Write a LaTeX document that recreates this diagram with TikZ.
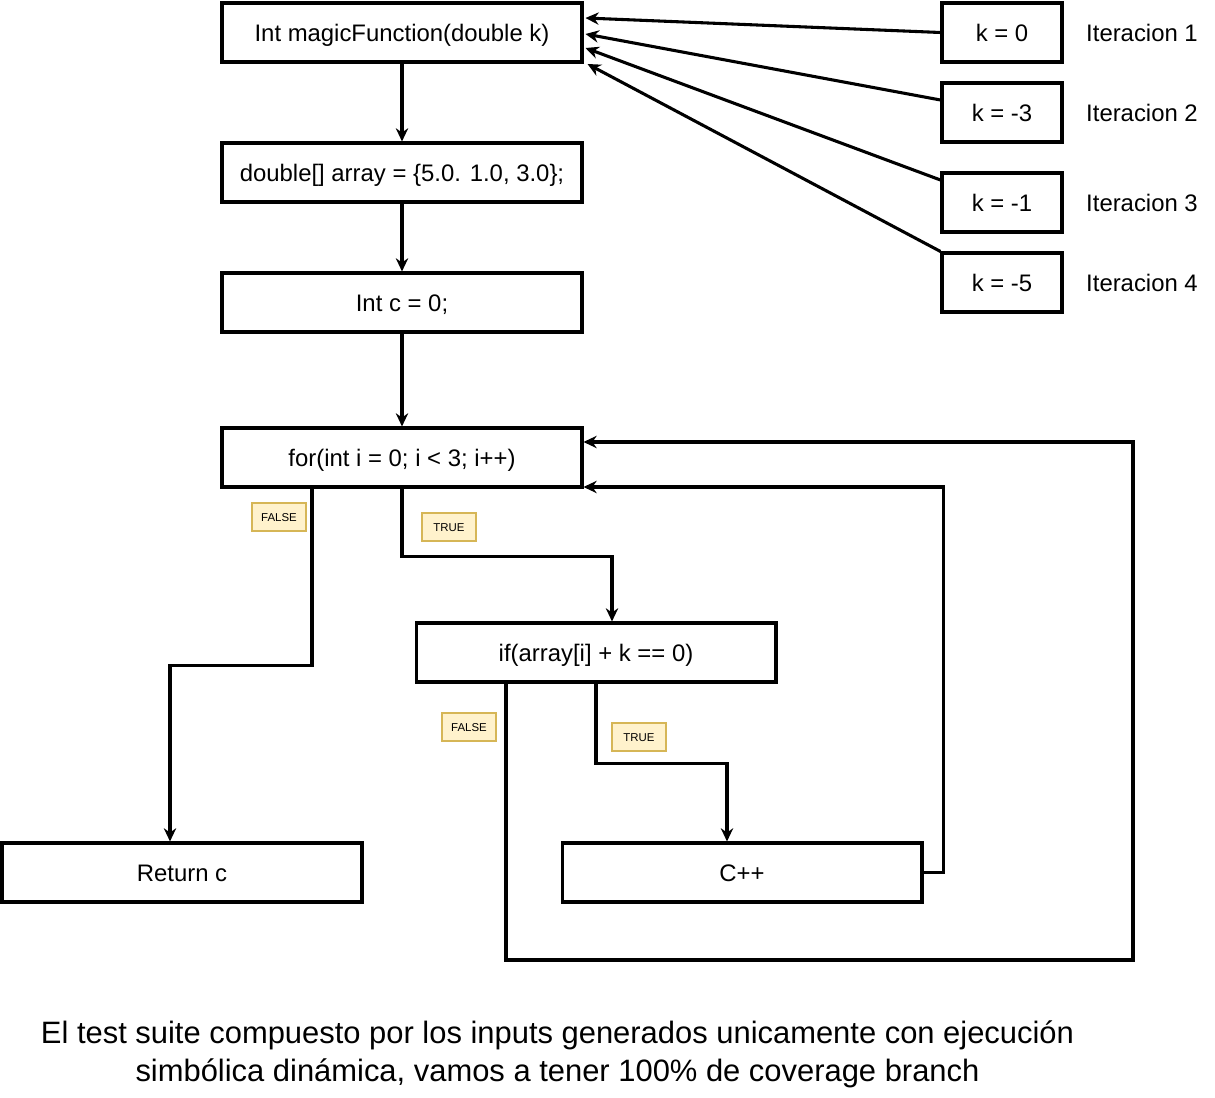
\documentclass[tikz,border=0pt]{standalone}
\usepackage{fontspec}
\setmainfont{Liberation Sans}
\usetikzlibrary{arrows.meta, calc}
\definecolor{notefill}{RGB}{255,242,204}
\definecolor{notedraw}{RGB}{214,182,86}

\begin{document}
\begin{tikzpicture}[
    x=0.02cm, y=-0.02cm,
    >=Stealth,
    line join=miter,
    box/.style={draw, line width=1.75pt, minimum width=7.2cm, minimum height=1.18cm,
                inner sep=0pt, text height=9.7pt, text depth=0pt,
                font=\fontsize{13.6}{16}\selectfont},
    kbox/.style={box, minimum width=2.4cm},
    conn/.style={line width=1.75pt, -{Stealth[length=7.5pt,width=7pt]}},
    note/.style={draw=notedraw, fill=notefill, line width=0.6pt, minimum width=1.08cm,
                 minimum height=0.56cm, inner sep=0pt, text height=4.7pt, text depth=0pt,
                 font=\fontsize{6.5}{8}\selectfont},
    lbl/.style={text height=9.7pt, text depth=0pt, font=\fontsize{13.6}{16}\selectfont},
]

% ── Canvas ──────────────────────────────────────────────────────────────────
\useasboundingbox (0,0) rectangle (1215,1098);

% ── Main flow ───────────────────────────────────────────────────────────────
\node[box] (magic) at (402,32.5)  {Int magicFunction(double k)};
\node[box] (arr)   at (402,172.5) {double[] array = \{5.0. 1.0, 3.0\};};
\node[box] (intc)  at (402,302.5) {Int c = 0;};
\node[box] (for)   at (402,457.5) {for(int i = 0; i < 3; i++)};
\node[box] (if)    at (596,652.5) {if(array[i] + k == 0)};
\node[box] (ret)   at (182,872.5) {Return c};
\node[box] (cpp)   at (742,872.5) {C++};

% ── Inputs per iteration ────────────────────────────────────────────────────
\node[kbox] (k0) at (1002,32.5)  {k = 0};
\node[kbox] (k3) at (1002,112.5) {k = -3};
\node[kbox] (k1) at (1002,202.5) {k = -1};
\node[kbox] (k5) at (1002,282.5) {k = -5};

\node[lbl] (it1) at (1142,33)  {Iteracion 1};
\node[lbl] (it2) at (1142,113) {Iteracion 2};
\node[lbl] (it3) at (1142,203) {Iteracion 3};
\node[lbl] (it4) at (1142,283) {Iteracion 4};

% ── Input arrows ────────────────────────────────────────────────────────────
\draw[conn] (k0.west) -- ($(magic.east)+(2,-14.5)$);
\draw[conn] ($(k3.west)+(0,-12.5)$) -- ($(magic.east)+(2,1.5)$);
\draw[conn] ($(k1.west)+(0,-22.5)$) -- ($(magic.east)+(2,15.5)$);
\draw[conn] (k5.north west) -- ($(magic.east)+(4,31.5)$);

% ── Straight sequence ───────────────────────────────────────────────────────
\draw[conn] (magic) -- (arr);
\draw[conn] (arr) -- (intc);
\draw[conn] (intc) -- (for);

% ── Loop branches ───────────────────────────────────────────────────────────
% for: FALSE --> return
\draw[conn] ($(for.south)+(-90,0)$) -- ++(0,177) -| ($(ret.north)+(-12,0)$);
% for: TRUE --> if
\draw[conn] (for.south) -- ++(0,68) -| ($(if.north)+(16,0)$);
% if: FALSE --> back to for
\coordinate (loopB) at (1133,960);
\draw[conn] ($(if.south)+(-90,0)$) |- (loopB) |- ($(for.east)+(0,-15.5)$);
% if: TRUE --> C++
\draw[conn] (if.south) -- ++(0,80) -| ($(cpp.north)+(-15,0)$);
% C++ --> back to for
\draw[conn] (cpp.east) -- ++(20,0) |- ($(for.east)+(0,29.5)$);

% ── Branch notes ────────────────────────────────────────────────────────────
\node[note] (nf1) at (279,517) {FALSE};
\node[note] (nt1) at (449,527) {TRUE};
\node[note] (nf2) at (469,727) {FALSE};
\node[note] (nt2) at (639,737) {TRUE};

% ── Caption ─────────────────────────────────────────────────────────────────
\node[align=center, font=\fontsize{17.6}{21.5}\selectfont] (cap) at (557.5,1054) {
    El test suite compuesto por los inputs generados unicamente con ejecución\\
    simbólica dinámica, vamos a tener 100\% de coverage branch
};

\end{tikzpicture}
\end{document}
